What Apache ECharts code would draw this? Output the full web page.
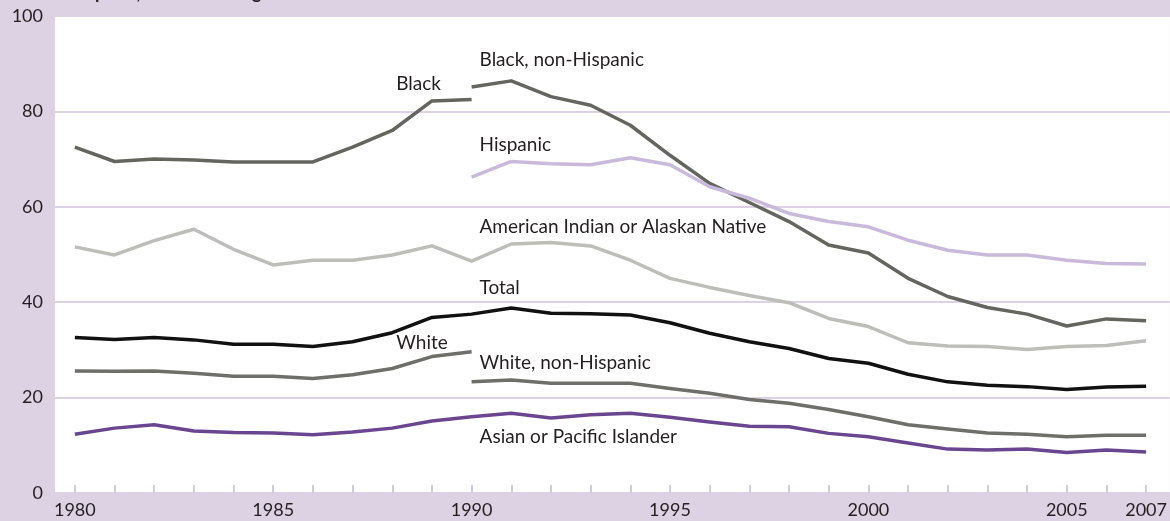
<!DOCTYPE html>
<html>
<head>
<meta charset="utf-8">
<script src="https://cdn.jsdelivr.net/npm/echarts@6/dist/echarts.min.js"></script>
<style>
html,body{margin:0;padding:0;background:#ddd1e4;}
#chart{width:1170px;height:521px;}
</style>
</head>
<body>
<div id="chart"></div>
<script>
// ---- data ----
const yearsAll = [1980,1981,1982,1983,1984,1985,1986,1987,1988,1989,1990,1991,1992,1993,1994,1995,1996,1997,1998,1999,2000,2001,2002,2003,2004,2005,2006,2007];
const years80 = [1980,1981,1982,1983,1984,1985,1986,1987,1988,1989,1990];
const years90 = [1990,1991,1992,1993,1994,1995,1996,1997,1998,1999,2000,2001,2002,2003,2004,2005,2006,2007];
const xTickLabels = [1980,1985,1990,1995,2000,2005,2007];
const yTicks = [0,20,40,60,80,100];

const black = [72.5,69.5,70.0,69.8,69.4,69.4,69.4,72.5,76.0,82.2,82.5];
const white = [25.6,25.5,25.6,25.1,24.5,24.5,24.0,24.8,26.1,28.6,29.6];
const blackNonHispanic = [85.1,86.4,83.1,81.3,77.1,70.8,64.9,60.9,56.9,52.0,50.3,45.0,41.2,38.9,37.5,35.0,36.5,36.1];
const hispanic = [66.2,69.5,69.0,68.8,70.3,68.8,64.2,61.8,58.6,56.9,55.8,53.0,50.9,49.9,49.9,48.8,48.1,48.0];
const whiteNonHispanic = [23.3,23.7,23.0,23.0,23.0,21.9,20.9,19.6,18.8,17.5,16.0,14.3,13.4,12.6,12.3,11.8,12.1,12.1];
const americanIndian = [51.6,49.9,52.9,55.3,51.1,47.8,48.8,48.8,49.9,51.8,48.6,52.2,52.5,51.8,48.8,45.0,43.1,41.4,39.9,36.6,34.9,31.5,30.8,30.7,30.1,30.7,30.9,31.9];
const total = [32.6,32.2,32.6,32.1,31.2,31.2,30.7,31.7,33.6,36.8,37.5,38.8,37.7,37.6,37.3,35.7,33.5,31.7,30.3,28.2,27.2,24.9,23.3,22.6,22.3,21.7,22.2,22.4];
const asian = [12.3,13.6,14.3,13.0,12.7,12.6,12.2,12.8,13.6,15.1,16.0,16.7,15.7,16.4,16.7,15.9,14.9,14.0,13.9,12.5,11.8,10.5,9.2,9.0,9.2,8.5,9.0,8.6];

const seriesNames = ['Black','Black, non-Hispanic','Hispanic','American Indian or Alaskan Native','Total','White','White, non-Hispanic','Asian or Pacific Islander'];
const titleText = 'Births per 1,000 females ages 15\u201317';

// ---- build ----
const FONT = 'Lato';
const TXT = '#231f20';
const pair = (xs, ys) => xs.map((x, i) => [x, ys[i]]);

function lineSeries(name, xs, ys, color, labelCoord) {
  return {
    name, type: 'line', data: pair(xs, ys),
    symbol: 'none', smooth: false,
    lineStyle: { color, width: 3.5, cap: 'butt', join: 'round' },
    emphasis: { disabled: true },
    markPoint: {
      symbol: 'circle', symbolSize: 0, silent: true,
      data: [{ coord: labelCoord }],
      label: {
        show: true, position: 'right', distance: 0, formatter: name,
        color: TXT, fontFamily: FONT, fontSize: 19
      }
    },
    z: 3
  };
}

const chart = echarts.init(document.getElementById('chart'), null, { renderer: 'canvas' });
chart.setOption({
  backgroundColor: '#ddd1e4',
  animation: false,
  title: {
    text: titleText, left: 38, top: -21,
    textStyle: { fontFamily: FONT, fontSize: 18, fontWeight: 'bold', color: TXT }
  },
  grid: { left: 55, right: 0, top: 16, bottom: 28, show: true, backgroundColor: '#ffffff', borderWidth: 0 },
  xAxis: {
    type: 'value', min: 1979.5, max: 2007.6,
    axisLine: { show: false },
    splitLine: { show: false },
    axisTick: { show: true, inside: true, length: 8, customValues: yearsAll, lineStyle: { color: '#d6c9e0', width: 2 } },
    axisLabel: { customValues: xTickLabels, color: TXT, fontFamily: FONT, fontSize: 18, margin: 8, formatter: v => String(v) }
  },
  yAxis: {
    type: 'value', min: 0, max: 100, interval: 20,
    axisLine: { show: false }, axisTick: { show: false },
    splitLine: { show: true, lineStyle: { color: '#ddd1e4', width: 2 } },
    axisLabel: { customValues: yTicks, color: TXT, fontFamily: FONT, fontSize: 18, margin: 12 }
  },
  series: [
    lineSeries(seriesNames[0], years80, black, '#65655f', [1988.1, 85.7]),
    lineSeries(seriesNames[1], years90, blackNonHispanic, '#65655f', [1990.2, 90.8]),
    lineSeries(seriesNames[2], years90, hispanic, '#c9b9da', [1990.2, 73.0]),
    lineSeries(seriesNames[3], yearsAll, americanIndian, '#bdbdb9', [1990.2, 55.8]),
    lineSeries(seriesNames[4], yearsAll, total, '#111111', [1990.2, 43.0]),
    lineSeries(seriesNames[5], years80, white, '#6e6e6a', [1988.1, 31.4]),
    lineSeries(seriesNames[6], years90, whiteNonHispanic, '#6e6e6a', [1990.2, 27.3]),
    lineSeries(seriesNames[7], yearsAll, asian, '#6a4691', [1990.2, 11.8])
  ]
});
</script>
</body>
</html>
